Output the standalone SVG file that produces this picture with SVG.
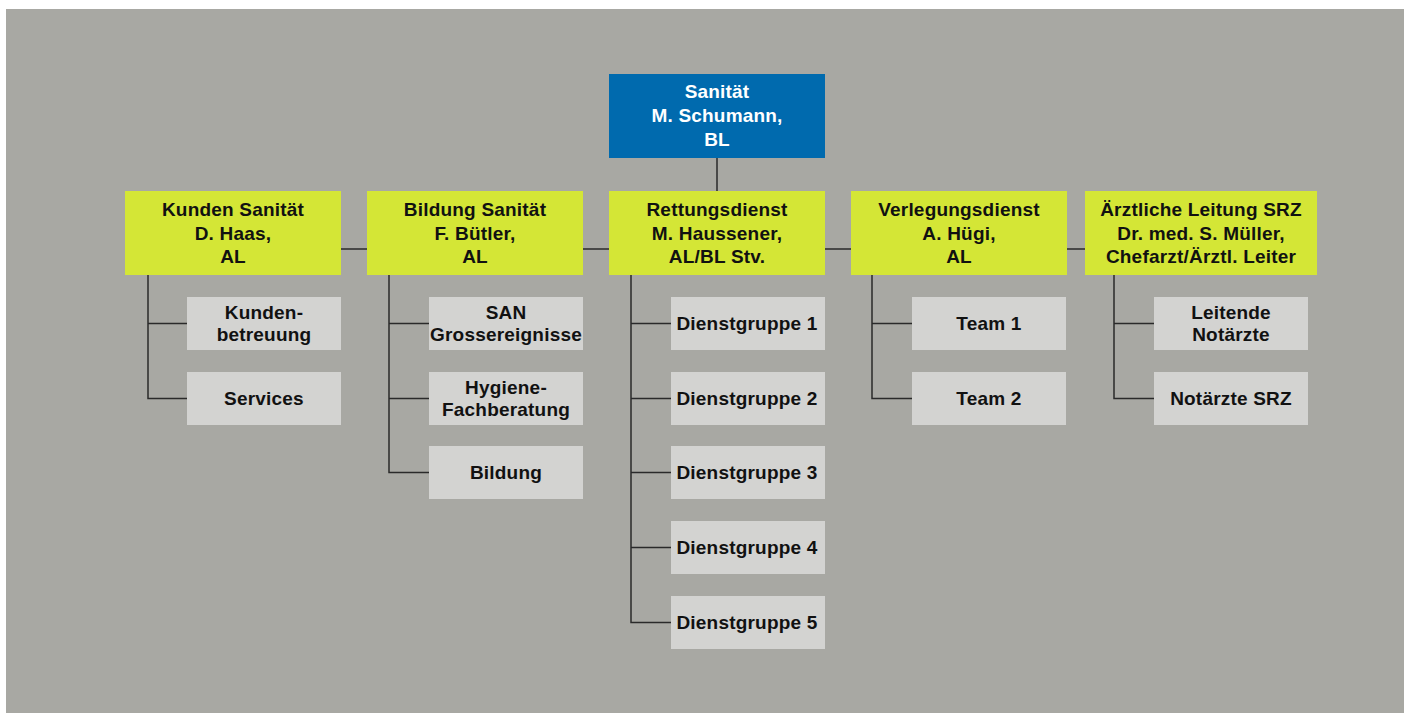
<svg xmlns="http://www.w3.org/2000/svg" width="1409" height="713" viewBox="0 0 1409 713">
<style>
.t{font-family:"Liberation Sans",Arial,Helvetica,sans-serif;font-weight:bold;font-size:19px;letter-spacing:0.2px;text-anchor:middle;fill:#111}
.w{fill:#ffffff}
.blue{fill:#006aae}
.lvl{fill:#d4e636}
.sub{fill:#d3d3d1}
.c{stroke:#2a2a2a;stroke-width:1.5;fill:none}
</style>
<rect x="6" y="9" width="1398" height="704" fill="#a8a8a3"/>
<g id="connectors">
<line class="c" x1="717" y1="158" x2="717" y2="191"/>
<line class="c" x1="341" y1="249" x2="1085" y2="249"/>
<path class="c" d="M148 275 V398.5 H187 M148 323.5 H187"/>
<path class="c" d="M389 275 V472.5 H429 M389 323.5 H429 M389 398.5 H429"/>
<path class="c" d="M631 275 V622.5 H671 M631 323.5 H671 M631 398.5 H671 M631 472.5 H671 M631 547.5 H671"/>
<path class="c" d="M872 275 V398.5 H912 M872 323.5 H912"/>
<path class="c" d="M1114 275 V398.5 H1154 M1114 323.5 H1154"/>
</g>
<g id="sanitaet">
<rect class="blue" x="609" y="74" width="216" height="84"/>
<text class="t w" x="717" y="98">Sanität</text>
<text class="t w" x="717" y="122">M. Schumann,</text>
<text class="t w" x="717" y="146">BL</text>
</g>
<g id="kunden-sanitaet">
<rect class="lvl" x="125" y="191" width="216" height="84"/>
<text class="t" x="233" y="216">Kunden Sanität</text>
<text class="t" x="233" y="239.5">D. Haas,</text>
<text class="t" x="233" y="263">AL</text>
</g>
<g id="bildung-sanitaet">
<rect class="lvl" x="367" y="191" width="216" height="84"/>
<text class="t" x="475" y="216">Bildung Sanität</text>
<text class="t" x="475" y="239.5">F. Bütler,</text>
<text class="t" x="475" y="263">AL</text>
</g>
<g id="rettungsdienst">
<rect class="lvl" x="609" y="191" width="216" height="84"/>
<text class="t" x="717" y="216">Rettungsdienst</text>
<text class="t" x="717" y="239.5">M. Haussener,</text>
<text class="t" x="717" y="263">AL/BL Stv.</text>
</g>
<g id="verlegungsdienst">
<rect class="lvl" x="851" y="191" width="216" height="84"/>
<text class="t" x="959" y="216">Verlegungsdienst</text>
<text class="t" x="959" y="239.5">A. Hügi,</text>
<text class="t" x="959" y="263">AL</text>
</g>
<g id="aerztliche-leitung">
<rect class="lvl" x="1085" y="191" width="232" height="84"/>
<text class="t" x="1201" y="216">Ärztliche Leitung SRZ</text>
<text class="t" x="1201" y="239.5">Dr. med. S. Müller,</text>
<text class="t" x="1201" y="263">Chefarzt/Ärztl. Leiter</text>
</g>
<g id="kundenbetreuung">
<rect class="sub" x="187" y="297" width="154" height="53"/>
<text class="t" x="264" y="318.5">Kunden-</text>
<text class="t" x="264" y="341">betreuung</text>
</g>
<g id="services">
<rect class="sub" x="187" y="372" width="154" height="53"/>
<text class="t" x="264" y="405">Services</text>
</g>
<g id="san-grossereignisse">
<rect class="sub" x="429" y="297" width="154" height="53"/>
<text class="t" x="506" y="318.5">SAN</text>
<text class="t" x="506" y="341">Grossereignisse</text>
</g>
<g id="hygiene">
<rect class="sub" x="429" y="372" width="154" height="53"/>
<text class="t" x="506" y="393.5">Hygiene-</text>
<text class="t" x="506" y="416">Fachberatung</text>
</g>
<g id="bildung">
<rect class="sub" x="429" y="446" width="154" height="53"/>
<text class="t" x="506" y="479">Bildung</text>
</g>
<g id="dg1">
<rect class="sub" x="671" y="297" width="154" height="53"/>
<text class="t" x="747" y="330">Dienstgruppe 1</text>
</g>
<g id="dg2">
<rect class="sub" x="671" y="372" width="154" height="53"/>
<text class="t" x="747" y="405">Dienstgruppe 2</text>
</g>
<g id="dg3">
<rect class="sub" x="671" y="446" width="154" height="53"/>
<text class="t" x="747" y="479">Dienstgruppe 3</text>
</g>
<g id="dg4">
<rect class="sub" x="671" y="521" width="154" height="53"/>
<text class="t" x="747" y="554">Dienstgruppe 4</text>
</g>
<g id="dg5">
<rect class="sub" x="671" y="596" width="154" height="53"/>
<text class="t" x="747" y="629">Dienstgruppe 5</text>
</g>
<g id="team1">
<rect class="sub" x="912" y="297" width="154" height="53"/>
<text class="t" x="989" y="330">Team 1</text>
</g>
<g id="team2">
<rect class="sub" x="912" y="372" width="154" height="53"/>
<text class="t" x="989" y="405">Team 2</text>
</g>
<g id="leitende-notaerzte">
<rect class="sub" x="1154" y="297" width="154" height="53"/>
<text class="t" x="1231" y="318.5">Leitende</text>
<text class="t" x="1231" y="341">Notärzte</text>
</g>
<g id="notaerzte-srz">
<rect class="sub" x="1154" y="372" width="154" height="53"/>
<text class="t" x="1231" y="405">Notärzte SRZ</text>
</g>
</svg>
